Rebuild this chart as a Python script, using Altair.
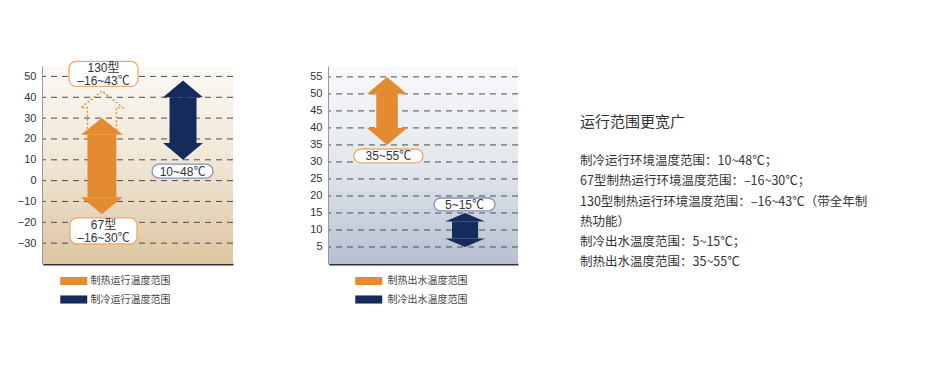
import altair as alt
import pandas as pd

# ---------------- data ----------------
left_series = ["制热运行温度范围", "制冷运行温度范围"]
left_low = [-16, 10]
left_high = [30, 48]
model130_high = 43
left_label_text = ["130型\n–16~43℃", "10~48℃", "67型\n–16~30℃"]
left_ticks = [-30, -20, -10, 0, 10, 20, 30, 40, 50]

right_series = ["制热出水温度范围", "制冷出水温度范围"]
right_low = [35, 5]
right_high = [55, 15]
right_label_text = ["35~55℃", "5~15℃"]
right_ticks = [5, 10, 15, 20, 25, 30, 35, 40, 45, 50, 55]

text_title = "运行范围更宽广"
text_lines = [
    "制冷运行环境温度范围：10~48℃；",
    "67型制热运行环境温度范围：–16~30℃；",
    "130型制热运行环境温度范围：–16~43℃（带全年制",
    "热功能）",
    "制冷出水温度范围：5~15℃；",
    "制热出水温度范围：35~55℃",
]

# ---------------- style ----------------
ORANGE = "#e48a31"
NAVY = "#142b5c"
BOX_ORANGE = "#eeaa66"
BOX_BLUE = "#8293b8"
NUM_FONT = "Liberation Sans, Noto Sans CJK SC"
CJK_FONT = "Noto Sans CJK SC"
LINE_PX = 12.5


def arrow_frames(series, lows, highs, geom):
    shafts, heads = [], []
    for s, lo, hi, (c, hh, sh, hl) in zip(series, lows, highs, geom):
        shafts.append({"series": s, "x": c - sh, "x2": c + sh, "y": lo + hl, "y2": hi - hl})
        heads += [
            {"series": s, "head": s + "t", "y": hi, "x": c, "x2": c},
            {"series": s, "head": s + "t", "y": hi - hl, "x": c - hh, "x2": c + hh},
            {"series": s, "head": s + "b", "y": lo, "x": c, "x2": c},
            {"series": s, "head": s + "b", "y": lo + hl, "x": c - hh, "x2": c + hh},
        ]
    return pd.DataFrame(shafts), pd.DataFrame(heads)


def grad(c0, c1, c2):
    return alt.LinearGradient(
        gradient="linear", x1=0, x2=0, y1=0, y2=1,
        stops=[alt.GradientStop(offset=0, color=c0),
               alt.GradientStop(offset=0.5, color=c1),
               alt.GradientStop(offset=1, color=c2)])


def panel(series, lows, highs, geom, ydomain, ticks, w, h, fillgrad, boxes, legx, legy, laboff, extra=None):
    xs = alt.Scale(domain=[0, 100], nice=False, zero=False)
    ys = alt.Scale(domain=ydomain, nice=False, zero=False)
    units_per_px = (ydomain[1] - ydomain[0]) / h
    color = alt.Color(
        "series:N",
        scale=alt.Scale(domain=series, range=[ORANGE, NAVY]),
        legend=alt.Legend(
            title=None, orient="none", legendX=legx, legendY=legy, direction="vertical",
            symbolType="M-2,-0.6H2V0.6H-2Z", symbolSize=182, symbolStrokeWidth=0,
            labelFont=CJK_FONT, labelFontSize=10, labelColor="#444", rowPadding=6.5,
            labelOffset=laboff,
        ),
    )
    shafts, heads = arrow_frames(series, lows, highs, geom)
    xaxis = alt.Axis(labels=False, ticks=False, grid=False, domainColor="#333", domainWidth=2, title=None)
    yaxis = alt.Axis(values=ticks, grid=False, ticks=False, domainColor="#333", domainWidth=2,
                     labelFont=NUM_FONT, labelFontSize=11, labelColor="#333", labelPadding=7,
                     labelOverlap=False, labelFlush=False, title=None)
    X = lambda f: alt.X(f, scale=xs, axis=xaxis)
    Y = lambda f: alt.Y(f, scale=ys, axis=yaxis)
    bg = alt.Chart(pd.DataFrame({"k": [0]})).mark_rect(fill=fillgrad).encode(
        x=alt.value(0), x2=alt.value(w), y=alt.value(0), y2=alt.value(h))
    grid = alt.Chart(pd.DataFrame({"v": ticks})).mark_rule(
        strokeDash=[6, 5], color="#4d4d4d", strokeWidth=1).encode(y=Y("v:Q"))
    base_rect = alt.Chart(shafts).mark_rect(opacity=1).encode(
        x=X("x:Q"), x2="x2:Q", y=Y("y:Q"), y2="y2:Q", color=color)
    head = alt.Chart(heads).mark_area(orient="horizontal", opacity=1).encode(
        y=Y("y:Q"), x=X("x:Q"), x2="x2:Q", color=color, detail="head:N")
    bdf = pd.DataFrame(boxes)
    box = alt.Chart(bdf).mark_rect(cornerRadius=7, fill="white", strokeWidth=1.3).encode(
        x=X("bx:Q"), x2="bx2:Q", y=Y("by:Q"), y2="by2:Q",
        stroke=alt.Stroke("stroke:N", scale=None))
    rows = []
    for _, r in bdf.iterrows():
        parts = r["label"].split("\n")
        cy = (r["by"] + r["by2"]) / 2
        cx = (r["bx"] + r["bx2"]) / 2
        n = len(parts)
        for i, p in enumerate(parts):
            rows.append({"tx": cx, "ty": cy - (i - (n - 1) / 2) * LINE_PX * units_per_px, "t": p})
    txt = alt.Chart(pd.DataFrame(rows)).mark_text(
        font=NUM_FONT, fontSize=12, color="#333", baseline="middle", dy=0.5
    ).encode(x=X("tx:Q"), y=Y("ty:Q"), text="t:N")
    layers = [bg, grid]
    if extra is not None:
        layers.append(extra(X, Y))
    layers += [base_rect, head, box, txt]
    return alt.layer(*layers).properties(width=w, height=h)


# dotted outline arrow for the 130 model (from the heating arrow up to its higher limit)
def dotted(X, Y):
    c, hh, sh, hl = 31, 11, 7.6, 8
    top = model130_high
    base = left_high[0] - 7
    pts = [(c - sh, base), (c - sh, top - hl), (c - hh, top - hl), (c, top),
           (c + hh, top - hl), (c + sh, top - hl), (c + sh, base)]
    df = pd.DataFrame({"x": [p[0] for p in pts], "y": [p[1] for p in pts], "o": list(range(len(pts)))})
    return alt.Chart(df).mark_line(strokeDash=[2, 2], strokeWidth=1.3, color=ORANGE).encode(
        x=X("x:Q"), y=Y("y:Q"), order="o:Q")


left = panel(
    left_series, left_low, left_high,
    [(31, 11, 7.6, 8), (73.7, 10.5, 7.1, 8)],
    [-40, 55], left_ticks, 190, 198,
    grad("#fbf9f5", "#efe5d4", "#dcc5a0"),
    {"bx": [13.7, 57.4, 14.2], "bx2": [50, 89.5, 49.5],
     "by": [45.2, 1.2, -30.4], "by2": [57.2, 7.9, -17.9],
     "stroke": [BOX_ORANGE, BOX_BLUE, BOX_ORANGE], "label": left_label_text},
    23.75, 208, 9.75, extra=dotted,
)

right = panel(
    right_series, right_low, right_high,
    [(30.7, 10.6, 5.7, 5), (72, 10.6, 6.9, 2.5)],
    [0, 58.2], right_ticks, 189, 198,
    grad("#f8f9fb", "#e3e7ed", "#b6c0d1"),
    {"bx": [13.2, 55.6], "bx2": [49.7, 87.8], "by": [29.7, 15.6], "by2": [33.8, 19.4],
     "stroke": [BOX_ORANGE, BOX_BLUE], "label": right_label_text},
    32.75, 208, 11.75,
)

tdf = pd.DataFrame({"row": list(range(len(text_lines))), "t": text_lines})
ttl = pd.DataFrame({"row": [-1.92], "t": [text_title]})
tys = alt.Scale(domain=[-4.68, 5.074], reverse=True, nice=False, zero=False)
text_panel = alt.layer(
    alt.Chart(ttl).mark_text(font=CJK_FONT, fontSize=15, color="#333", align="left", baseline="middle")
    .encode(x=alt.value(-34), y=alt.Y("row:Q", scale=tys, axis=None), text="t:N"),
    alt.Chart(tdf).mark_text(font=CJK_FONT, fontSize=12.5, color="#333", align="left", baseline="middle")
    .encode(x=alt.value(-34), y=alt.Y("row:Q", scale=tys, axis=None), text="t:N"),
).properties(width=280, height=198)

chart = alt.hconcat(left, right, text_panel, spacing=96, bounds="flush").resolve_scale(
    color="independent"
).properties(
    padding={"left": 9, "top": 52, "right": 4, "bottom": 4}
).configure_view(strokeWidth=0).configure_axis(labelOverlap=False)

chart.save("out.html", embed_options={"renderer": "svg", "actions": False})
